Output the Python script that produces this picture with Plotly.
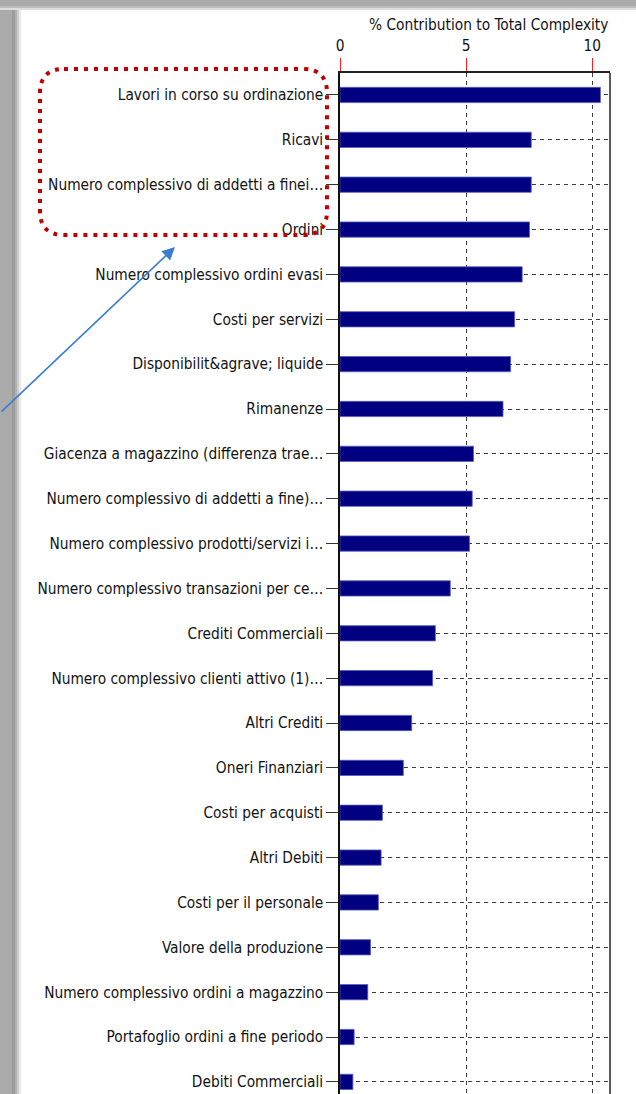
import plotly.graph_objects as go

# Contribution of each driver to the total complexity (%)
categories = [
    "Lavori in corso su ordinazione",
    "Ricavi",
    "Numero complessivo di addetti a finei…",
    "Ordini",
    "Numero complessivo ordini evasi",
    "Costi per servizi",
    "Disponibilit&amp;agrave; liquide",
    "Rimanenze",
    "Giacenza a magazzino (differenza trae…",
    "Numero complessivo di addetti a fine)…",
    "Numero complessivo prodotti/servizi i…",
    "Numero complessivo transazioni per ce…",
    "Crediti Commerciali",
    "Numero complessivo clienti attivo (1)…",
    "Altri Crediti",
    "Oneri Finanziari",
    "Costi per acquisti",
    "Altri Debiti",
    "Costi per il personale",
    "Valore della produzione",
    "Numero complessivo ordini a magazzino",
    "Portafoglio ordini a fine periodo",
    "Debiti Commerciali",
]
contribution = [
    10.32, 7.58, 7.58, 7.51, 7.22, 6.92, 6.76, 6.46, 5.29, 5.24, 5.13,
    4.37, 3.78, 3.67, 2.84, 2.51, 1.68, 1.63, 1.52, 1.21, 1.10, 0.56, 0.51,
]
x_ticks = [0, 5, 10]
axis_title = "% Contribution to Total Complexity"

W, H = 636, 1094
ML, MR, MT, MB = 340, 26, 73, 0
PW, PH = W - ML - MR, H - MT - MB


def px_x(px):
    return (px - ML) / PW


def px_y(py):
    return (H - MB - py) / PH


FONT = "DejaVu Sans Condensed, DejaVu Sans"
FSIZE = 15.3
GRID = "#3c3c3c"
TEXT = "#111111"

fig = go.Figure()
fig.add_trace(go.Bar(
    x=contribution,
    y=categories,
    orientation="h",
    width=0.34,
    marker=dict(color="#000080", line=dict(color="#5a5ac0", width=0.8)),
    hoverinfo="x+y",
))

shapes = []

# window edge strips (top and left) with a soft fade into the white page
left_strip = [(0, 12, "#aaaaaa"), (12, 15, "#9c9c9c"), (15, 17, "#b2b2b2"),
              (17, 19, "#cdcdcd"), (19, 21, "#e9e9e9")]
for x0, x1, c in left_strip:
    shapes.append(dict(type="rect", xref="paper", yref="paper",
                       x0=px_x(x0), x1=px_x(x1), y0=px_y(H), y1=px_y(0),
                       fillcolor=c, line=dict(width=0), layer="above"))
top_strip = [(0, 6, "#aaaaaa"), (6, 8, "#bcbcbc"), (8, 10, "#dddddd")]
for y0, y1, c in top_strip:
    shapes.append(dict(type="rect", xref="paper", yref="paper",
                       x0=px_x(0), x1=px_x(W), y0=px_y(y1), y1=px_y(y0),
                       fillcolor=c, line=dict(width=0), layer="above"))

# plot frame: right edge
shapes.append(dict(type="line", xref="paper", yref="paper",
                   x0=1, x1=1, y0=0, y1=1,
                   line=dict(color="#222222", width=1.5), layer="above"))

# red dotted rounded box around the top group of labels
bx0, bx1, by0, by1, r = 40, 327, 69, 235, 24
path = (
    f"M {px_x(bx0 + r)},{px_y(by0)} L {px_x(bx1 - r)},{px_y(by0)} "
    f"Q {px_x(bx1)},{px_y(by0)} {px_x(bx1)},{px_y(by0 + r)} "
    f"L {px_x(bx1)},{px_y(by1 - r)} "
    f"Q {px_x(bx1)},{px_y(by1)} {px_x(bx1 - r)},{px_y(by1)} "
    f"L {px_x(bx0 + r)},{px_y(by1)} "
    f"Q {px_x(bx0)},{px_y(by1)} {px_x(bx0)},{px_y(by1 - r)} "
    f"L {px_x(bx0)},{px_y(by0 + r)} "
    f"Q {px_x(bx0)},{px_y(by0)} {px_x(bx0 + r)},{px_y(by0)} Z"
)
shapes.append(dict(type="path", xref="paper", yref="paper", path=path,
                   line=dict(color="#c00000", width=4, dash="4px,6px"),
                   layer="above"))

annotations = [
    dict(text=axis_title, xref="paper", yref="paper",
         x=px_x(488), y=px_y(25), xanchor="center", yanchor="middle",
         showarrow=False, font=dict(family=FONT, size=FSIZE, color=TEXT)),
    # blue pointer arrow
    dict(text="", xref="paper", yref="paper", x=px_x(175), y=px_y(247),
         ax=-176, ay=166, axref="pixel", ayref="pixel",
         showarrow=True, arrowhead=2, arrowsize=1.6, arrowwidth=1.6,
         arrowcolor="#3a7dcc", standoff=0),
]

fig.update_layout(
    width=W, height=H,
    margin=dict(l=ML, r=MR, t=MT, b=MB, pad=0),
    paper_bgcolor="white", plot_bgcolor="white",
    showlegend=False,
    font=dict(family=FONT, size=FSIZE, color=TEXT),
    shapes=shapes,
    annotations=annotations,
    xaxis=dict(
        side="top", range=[0, 10.70], tickvals=x_ticks,
        ticks="outside", ticklen=13, tickcolor="#ff2020", tickwidth=1,
        showline=True, linecolor="#222222", linewidth=1.5,
        showgrid=True, gridcolor=GRID, gridwidth=1, griddash="4px,4px",
        zeroline=False, tickfont=dict(family=FONT, size=FSIZE, color=TEXT),
        ticklabelstandoff=1, fixedrange=True,
    ),
    yaxis=dict(
        categoryorder="array", categoryarray=categories,
        range=[22.27, -0.49],
        ticks="outside", ticklen=12, tickcolor="#333333", tickwidth=1.2,
        showline=True, linecolor="#111111", linewidth=1.5,
        showgrid=True, gridcolor=GRID, gridwidth=1, griddash="4px,4px",
        zeroline=False, tickfont=dict(family=FONT, size=FSIZE, color=TEXT),
        ticklabelstandoff=0, fixedrange=True,
    ),
)

fig.write_html("out.html")
